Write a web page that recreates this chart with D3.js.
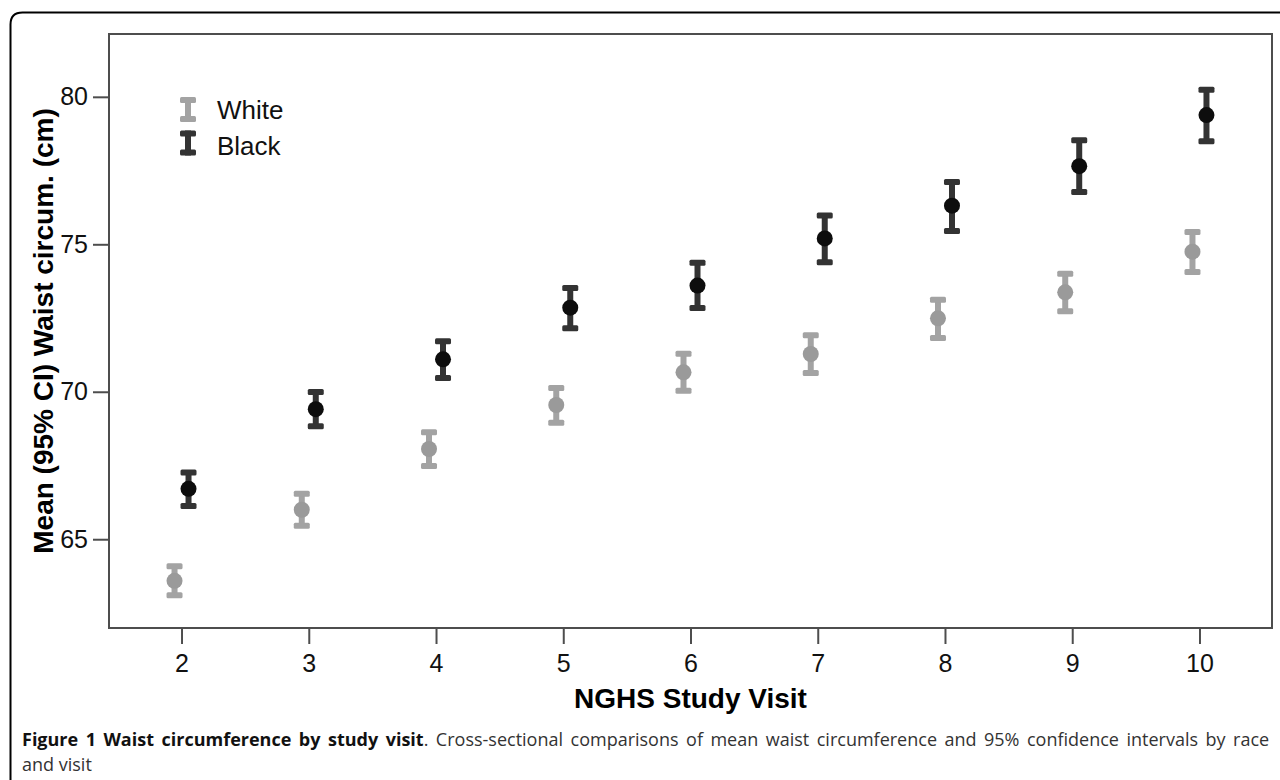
<!DOCTYPE html>
<html lang="en">
<head>
    <meta charset="UTF-8">
    <title>Waist circumference by study visit</title>
    <style>
        html, body {
            margin: 0;
            padding: 0;
            background: #fff;
        }
        svg {
            display: block;
        }
        .axis text {
            font-family: "Liberation Sans", Arial, sans-serif;
            font-size: 25px;
            fill: #111;
        }
        .axis line {
            stroke: #4d4d4d;
            stroke-width: 2;
        }
        .axis path {
            display: none;
        }
    </style>
</head>
<body>
    <div id="chart"></div>

    <script src="https://cdn.jsdelivr.net/npm/d3@7"></script>
    <script>
        // values (cm)
        const visits = [2, 3, 4, 5, 6, 7, 8, 9, 10];

        const whiteMean = [63.59, 66.00, 68.06, 69.55, 70.66, 71.28, 72.49, 73.37, 74.75];
        const whiteLo   = [63.10, 65.46, 67.48, 68.95, 70.03, 70.64, 71.82, 72.73, 74.06];
        const whiteHi   = [64.08, 66.54, 68.63, 70.13, 71.29, 71.92, 73.12, 74.00, 75.42];

        const blackMean = [66.71, 69.41, 71.10, 72.85, 73.60, 75.20, 76.31, 77.65, 79.38];
        const blackLo   = [66.13, 68.83, 70.47, 72.15, 72.84, 74.39, 75.45, 76.77, 78.49];
        const blackHi   = [67.26, 69.99, 71.71, 73.52, 74.37, 75.98, 77.11, 78.53, 80.24];

        const yTicks = [65, 70, 75, 80];
        const seriesNames = ['White', 'Black'];

        const width = 1280;
        const height = 780;
        const plot = { left: 109, top: 34, right: 1272, bottom: 628 };

        const svg = d3.select('#chart')
            .append('svg')
            .attr('width', width)
            .attr('height', height);

        // outer rounded figure box (runs off the right and bottom edges)
        svg.append('path')
            .attr('d', 'M10.5,' + height + ' V24.5 Q10.5,12.5 22.5,12.5 H' + width)
            .attr('fill', 'none')
            .attr('stroke', '#000')
            .attr('stroke-width', 2);

        const x = d3.scaleLinear()
            .domain([1.43, 10.57])
            .range([plot.left, plot.right]);

        const y = d3.scaleLinear()
            .domain([61.99, 82.13])
            .range([plot.bottom, plot.top]);

        const dodge = 0.055;

        const series = [
            { name: 'White', mean: whiteMean, lo: whiteLo, hi: whiteHi, shift: -dodge, bar: '#a3a3a3', dot: '#9a9a9a' },
            { name: 'Black', mean: blackMean, lo: blackLo, hi: blackHi, shift: dodge, bar: '#333333', dot: '#0d0d0d' }
        ];

        svg.append('g')
            .attr('class', 'axis')
            .attr('transform', 'translate(' + plot.left + ',0)')
            .call(d3.axisLeft(y).tickValues(yTicks).tickSize(16).tickPadding(5));

        svg.append('g')
            .attr('class', 'axis')
            .attr('transform', 'translate(0,' + plot.bottom + ')')
            .call(d3.axisBottom(x).tickValues(visits).tickSize(16).tickPadding(10).tickFormat(d3.format('d')));

        svg.append('rect')
            .attr('x', plot.left)
            .attr('y', plot.top)
            .attr('width', plot.right - plot.left)
            .attr('height', plot.bottom - plot.top)
            .attr('fill', 'none')
            .attr('stroke', '#4d4d4d')
            .attr('stroke-width', 2);

        // error bars
        const capW = 16, capH = 6, stem = 6;

        series.forEach(s => {
            const pts = visits.map((v, i) => ({ v: v + s.shift, m: s.mean[i], lo: s.lo[i], hi: s.hi[i] }));
            const g = svg.append('g').attr('class', 'series-' + s.name.toLowerCase());

            g.selectAll('line.stem')
                .data(pts)
                .enter()
                .append('line')
                .attr('class', 'stem')
                .attr('x1', d => x(d.v))
                .attr('x2', d => x(d.v))
                .attr('y1', d => y(d.lo))
                .attr('y2', d => y(d.hi))
                .attr('stroke', s.bar)
                .attr('stroke-width', stem);

            g.selectAll('rect.cap')
                .data(pts.flatMap(d => [{ v: d.v, val: d.lo }, { v: d.v, val: d.hi }]))
                .enter()
                .append('rect')
                .attr('class', 'cap')
                .attr('x', d => x(d.v) - capW / 2)
                .attr('y', d => y(d.val) - capH / 2)
                .attr('width', capW)
                .attr('height', capH)
                .attr('rx', 1.5)
                .attr('fill', s.bar);

            g.selectAll('circle')
                .data(pts)
                .enter()
                .append('circle')
                .attr('cx', d => x(d.v))
                .attr('cy', d => y(d.m))
                .attr('r', 8)
                .attr('fill', s.dot);
        });

        // legend
        const legend = svg.append('g').attr('transform', 'translate(188,0)');
        const legendRows = [{ cy: 109.5, base: 119 }, { cy: 143, base: 155 }];

        seriesNames.forEach((name, i) => {
            const s = series[i];
            const row = legend.append('g');
            const top = legendRows[i].cy - 12.5, bot = legendRows[i].cy + 12.5;
            row.append('line')
                .attr('x1', 0).attr('x2', 0)
                .attr('y1', top).attr('y2', bot)
                .attr('stroke', s.bar)
                .attr('stroke-width', stem);
            [top + capH / 2, bot - capH / 2].forEach(cy => {
                row.append('rect')
                    .attr('x', -capW / 2)
                    .attr('y', cy - capH / 2)
                    .attr('width', capW)
                    .attr('height', capH)
                    .attr('rx', 1.5)
                    .attr('fill', s.bar);
            });
            row.append('text')
                .attr('x', 29)
                .attr('y', legendRows[i].base)
                .style('font-family', '"Liberation Sans", Arial, sans-serif')
                .style('font-size', '26px')
                .attr('fill', '#111')
                .text(name);
        });

        // axis titles
        svg.append('text')
            .attr('x', (plot.left + plot.right) / 2)
            .attr('y', 708)
            .attr('text-anchor', 'middle')
            .style('font-family', '"Liberation Sans", Arial, sans-serif')
            .style('font-size', '28px')
            .style('font-weight', 'bold')
            .attr('fill', '#000')
            .text('NGHS Study Visit');

        svg.append('text')
            .attr('transform', 'translate(53,' + (plot.top + plot.bottom) / 2 + ') rotate(-90)')
            .attr('text-anchor', 'middle')
            .style('font-family', '"Liberation Sans", Arial, sans-serif')
            .style('font-size', '28px')
            .style('font-weight', 'bold')
            .attr('fill', '#000')
            .text('Mean (95% CI) Waist circum. (cm)');

        // caption, first line stretched to the figure width
        const capFont = '"Open Sans", "Noto Sans", sans-serif';
        const capSize = '18px';
        const caption = svg.append('text')
            .attr('x', 22)
            .attr('y', 746)
            .style('font-family', capFont)
            .style('font-size', capSize);
        caption.append('tspan')
            .style('font-weight', 'bold')
            .attr('fill', '#111')
            .text('Figure 1 Waist circumference by study visit');
        caption.append('tspan')
            .attr('fill', '#333')
            .text('. Cross-sectional comparisons of mean waist circumference and 95% confidence intervals by race');

        const targetW = 1250;
        const natural = caption.node().getComputedTextLength();
        const gaps = 19;
        caption.style('word-spacing', Math.max(0, (targetW - natural) / gaps) + 'px');

        svg.append('text')
            .attr('x', 22)
            .attr('y', 771)
            .style('font-family', capFont)
            .style('font-size', capSize)
            .attr('fill', '#333')
            .text('and visit');
    </script>
</body>
</html>
